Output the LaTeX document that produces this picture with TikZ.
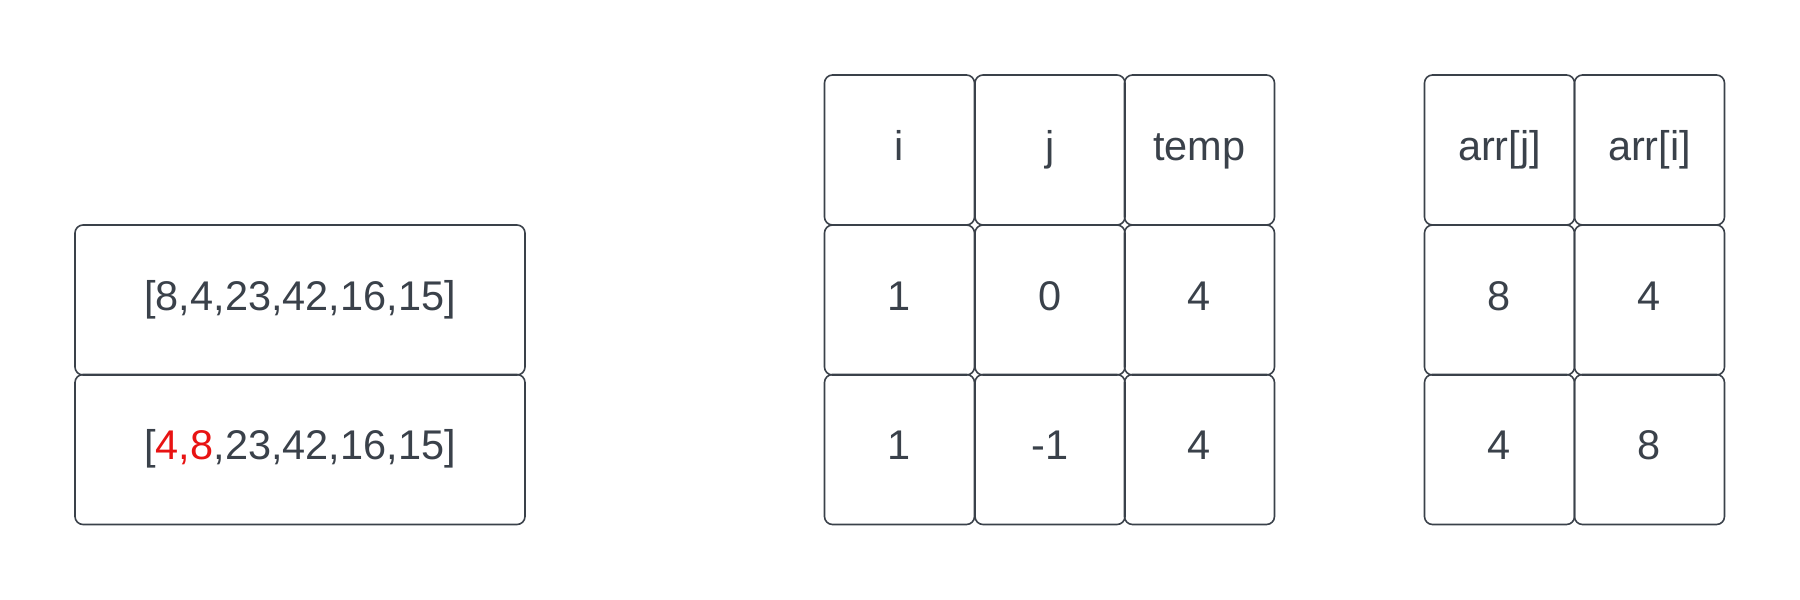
\documentclass[tikz,border=0pt]{standalone}
\usepackage{fontspec}
\setmainfont{Liberation Sans}
\definecolor{ink}{HTML}{3A414A}
\definecolor{hot}{HTML}{E81313}
\begin{document}
\begin{tikzpicture}[x=1pt,y=-1pt,
  cell/.style={draw=ink, line width=1.6pt, rounded corners=8pt, text=ink,
    minimum width=150pt, minimum height=150pt, inner sep=0pt,
    font=\fontsize{41.5}{50}\selectfont, text height=30pt, text depth=10pt},
  wide/.style={cell, minimum width=450pt}]
\useasboundingbox (0,0) rectangle (1800,600);
% left column
\node[wide] (a1) at (300,300) {[8,4,23,42,16,15]};
\node[wide] (a2) at (300,449.5) {[\textcolor{hot}{4,8},23,42,16,15]};
% middle table
\node[cell] (h1) at (899.5,150) {i};
\node[cell] (h2) at (1050,150) {j};
\node[cell] (h3) at (1199.5,150) {temp};
\node[cell] (r11) at (899.5,300) {1};
\node[cell] (r12) at (1050,300) {0};
\node[cell] (r13) at (1199.5,300) {4};
\node[cell] (r21) at (899.5,449.5) {1};
\node[cell] (r22) at (1050,449.5) {-1};
\node[cell] (r23) at (1199.5,449.5) {4};
% right table
\node[cell] (g1) at (1499.5,150) {arr[j]};
\node[cell] (g2) at (1649.5,150) {arr[i]};
\node[cell] (s11) at (1499.5,300) {8};
\node[cell] (s12) at (1649.5,300) {4};
\node[cell] (s21) at (1499.5,449.5) {4};
\node[cell] (s22) at (1649.5,449.5) {8};
\end{tikzpicture}
\end{document}
